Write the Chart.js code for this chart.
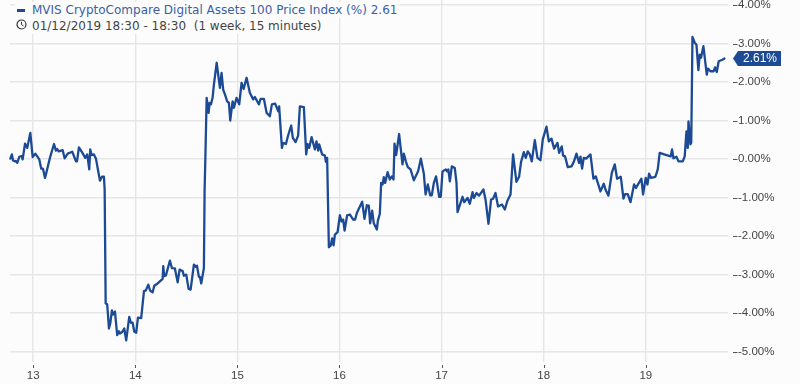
<!DOCTYPE html>
<html><head><meta charset="utf-8">
<style>
html,body{margin:0;padding:0;background:#fcfcfc;overflow:hidden}
#wrap{position:relative;width:800px;height:384px}
canvas{position:absolute;left:0;top:0}
.hd{position:absolute;background:#fcfcfc;font:12px "DejaVu Sans",sans-serif;white-space:pre;line-height:16px;height:16px}
#h1{left:15px;top:2px;padding-left:17px;padding-right:2px;color:#3a5fa5}
#h2{left:15px;top:18px;padding-left:17px;padding-right:2px;color:#444}
#mk{position:absolute;left:17px;top:9px;width:8px;height:3px;background:#1c4a94}
#clk{position:absolute;left:16px;top:19px}
</style></head><body>
<div id="wrap">
<canvas id="c" width="800" height="384"></canvas>
<div class="hd" id="h1"></div><div id="mk"></div>
<div class="hd" id="h2"></div>
<svg id="clk" width="11" height="11" viewBox="0 0 11 11"><circle cx="5.5" cy="5.5" r="4.5" fill="none" stroke="#333" stroke-width="1.2"/><path d="M5.5 2.8V5.7L7.5 6.8" fill="none" stroke="#333" stroke-width="1"/></svg>
</div>
<script src="https://cdn.jsdelivr.net/npm/chart.js@4"></script>
<script>
const seriesName = "MVIS CryptoCompare Digital Assets 100 Price Index (%) 2.61";
const rangeText = "01/12/2019 18:30 - 18:30  (1 week, 15 minutes)";
const xTicks = [13,14,15,16,17,18,19];
const yTicks = [4,3,2,1,0,-1,-2,-3,-4,-5];
const lastLabel = "2.61%";
const days = [12.776,12.792,12.802,12.819,12.829,12.844,12.864,12.887,12.897,12.920,12.942,12.972,12.995,13.021,13.060,13.079,13.096,13.116,13.132,13.164,13.204,13.223,13.236,13.250,13.289,13.308,13.338,13.383,13.419,13.429,13.448,13.478,13.510,13.530,13.549,13.559,13.573,13.595,13.615,13.634,13.654,13.674,13.693,13.700,13.710,13.725,13.742,13.755,13.771,13.781,13.801,13.823,13.840,13.850,13.869,13.892,13.911,13.941,13.957,13.974,13.990,14.009,14.026,14.058,14.085,14.104,14.127,14.146,14.170,14.186,14.219,14.268,14.274,14.283,14.300,14.339,14.359,14.388,14.415,14.434,14.464,14.476,14.499,14.522,14.542,14.574,14.594,14.604,14.623,14.633,14.646,14.672,14.679,14.685,14.699,14.718,14.728,14.741,14.757,14.770,14.797,14.829,14.845,14.861,14.878,14.900,14.917,14.930,14.953,14.966,14.992,15.018,15.041,15.061,15.090,15.122,15.155,15.171,15.211,15.227,15.260,15.286,15.318,15.338,15.370,15.400,15.409,15.436,15.448,15.475,15.501,15.527,15.543,15.570,15.595,15.612,15.651,15.674,15.687,15.703,15.727,15.759,15.775,15.791,15.801,15.830,15.857,15.867,15.879,15.886,15.896,15.915,15.928,15.942,15.955,15.981,16.004,16.020,16.036,16.050,16.075,16.102,16.134,16.153,16.170,16.222,16.245,16.268,16.287,16.300,16.320,16.336,16.366,16.376,16.395,16.408,16.422,16.434,16.447,16.471,16.493,16.513,16.529,16.539,16.555,16.584,16.617,16.630,16.650,16.669,16.696,16.728,16.770,16.797,16.826,16.843,16.865,16.888,16.904,16.924,16.946,16.976,16.992,17.009,17.041,17.054,17.066,17.081,17.100,17.129,17.146,17.156,17.205,17.221,17.254,17.276,17.303,17.316,17.342,17.367,17.410,17.430,17.459,17.485,17.504,17.528,17.553,17.592,17.619,17.645,17.675,17.700,17.733,17.759,17.778,17.805,17.824,17.844,17.864,17.883,17.913,17.939,17.968,17.991,18.027,18.050,18.076,18.102,18.135,18.151,18.177,18.190,18.209,18.236,18.272,18.294,18.321,18.346,18.360,18.376,18.392,18.415,18.458,18.487,18.510,18.556,18.588,18.605,18.634,18.667,18.696,18.719,18.755,18.781,18.797,18.823,18.850,18.885,18.904,18.957,18.973,18.999,19.016,19.032,19.051,19.094,19.117,19.136,19.195,19.244,19.257,19.271,19.300,19.320,19.362,19.381,19.398,19.411,19.418,19.437,19.445,19.457,19.479,19.496,19.515,19.528,19.541,19.564,19.597,19.609,19.633,19.665,19.678,19.695,19.714,19.750,19.770];
const values = [0.01,0.12,-0.03,-0.06,-0.05,-0.10,0.06,0.08,-0.01,0.40,0.29,0.68,0.05,0.14,-0.01,-0.25,-0.25,-0.49,-0.32,0.03,0.39,0.22,0.26,0.20,0.23,0.02,0.14,0.19,-0.06,-0.06,0.30,0.18,0.03,0.12,-0.27,0.25,0.10,0.12,0.01,-0.27,-0.56,-0.46,-0.46,-0.79,-3.75,-3.77,-4.40,-4.27,-3.93,-4.04,-3.96,-4.57,-4.47,-4.53,-4.50,-4.40,-4.71,-4.10,-4.25,-4.25,-4.48,-4.51,-4.12,-4.13,-3.43,-3.41,-3.26,-3.42,-3.46,-3.29,-3.23,-3.11,-2.78,-3.04,-3.02,-2.64,-2.83,-2.84,-3.20,-2.87,-2.91,-3.03,-3.00,-3.37,-3.39,-2.74,-2.80,-2.77,-3.06,-3.06,-3.23,-2.83,-0.79,-0.14,1.59,1.20,1.46,1.42,1.59,1.93,2.50,1.85,2.24,1.80,1.68,1.50,1.46,1.00,1.50,1.33,1.59,1.42,1.98,1.82,2.11,1.72,1.55,1.61,1.42,1.56,1.56,1.20,1.11,1.42,1.44,1.24,1.37,0.29,0.42,0.39,0.65,0.87,0.55,0.44,0.61,1.37,1.35,0.12,0.39,0.29,0.57,0.25,0.46,0.22,0.38,0.12,0.09,-0.07,0.03,0.03,-2.29,-2.24,-2.06,-2.24,-1.96,-1.90,-1.46,-1.62,-1.57,-1.86,-1.46,-1.44,-1.57,-1.57,-1.40,-1.11,-1.55,-1.20,-1.21,-1.67,-1.34,-1.67,-1.83,-1.60,-1.42,-0.62,-0.66,-0.47,-0.62,-0.34,-0.53,-0.45,-0.53,0.40,0.10,0.65,-0.14,0.14,-0.06,-0.21,-0.27,-0.55,-0.32,0.01,-0.38,-0.92,-0.66,-0.94,-0.94,-0.62,-0.45,-0.98,-0.98,-0.32,-0.27,-0.32,-0.27,-0.58,-0.19,-0.23,-0.62,-1.38,-0.98,-1.12,-1.01,-1.16,-0.86,-1.01,-0.88,-0.95,-0.79,-1.05,-1.68,-1.05,-1.03,-0.88,-1.23,-1.18,-1.31,-1.08,-0.92,0.12,-0.59,-0.46,-0.08,0.18,0.03,0.20,0.12,-0.06,0.49,0.03,-0.03,0.51,0.84,0.46,0.53,0.27,0.42,0.16,0.33,0.09,0.07,-0.21,-0.19,-0.08,0.14,-0.10,0.06,-0.25,0.03,0.01,0.12,-0.51,-0.45,-0.84,-0.64,-0.79,-0.95,-0.36,-0.14,-0.51,-0.46,-1.03,-0.91,-0.91,-1.12,-0.66,-0.75,-0.51,-0.92,-0.49,-0.66,-0.38,-0.49,-0.46,-0.27,0.16,0.11,0.07,0.25,0.02,0.06,-0.06,-0.06,0.07,0.72,0.29,0.98,0.38,0.43,3.17,3.02,2.97,2.31,2.71,2.63,2.93,2.19,2.35,2.28,2.28,2.38,2.26,2.54,2.58,2.61];

document.getElementById('h1').textContent = seriesName;
document.getElementById('h2').textContent = rangeText;

const BLUE = '#1c4a94';
const decor = {
  id:'decor',
  afterDraw(ch){
    const g = ch.ctx, ys = ch.scales.y, xs = ch.scales.x, a = ch.chartArea;
    g.save();
    g.strokeStyle = '#555'; g.lineWidth = 1;
    yTicks.forEach(t=>{ const p = Math.round(ys.getPixelForValue(t))+0.5;
      g.beginPath(); g.moveTo(a.right+5,p); g.lineTo(a.right+9.5,p); g.stroke(); });
    xTicks.forEach(t=>{ const p = Math.round(xs.getPixelForValue(t))+0.5;
      g.beginPath(); g.moveTo(p,a.bottom+3); g.lineTo(p,a.bottom+6); g.stroke(); });
    const yy = ys.getPixelForValue(values[values.length-1]), xl = a.right+5;
    g.fillStyle = BLUE;
    g.beginPath(); g.moveTo(xl,yy); g.lineTo(xl+5,yy-7.5); g.lineTo(xl+48,yy-7.5); g.lineTo(xl+48,yy+7.5); g.lineTo(xl+5,yy+7.5); g.closePath(); g.fill();
    g.fillStyle = '#fff'; g.font = '12px "Liberation Sans"'; g.textAlign='center'; g.textBaseline='middle';
    g.fillText(lastLabel, xl+27, yy+0.5);
    g.restore();
  }
};
new Chart(document.getElementById('c'),{
  type:'line',
  data:{datasets:[{data:days.map((d,i)=>({x:d,y:values[i]})),borderColor:BLUE,borderWidth:2.3,borderJoinStyle:'round',borderCapStyle:'round',pointRadius:0,tension:0,fill:false,clip:false}]},
  options:{
    responsive:false,animation:false,
    layout:{padding:{left:10,top:0,right:0,bottom:0}},
    plugins:{legend:{display:false},tooltip:{enabled:false}},
    scales:{
      x:{type:'linear',min:12.773,max:19.805,
        afterBuildTicks(s){s.ticks=xTicks.map(v=>({value:v}));},
        afterFit(s){s.height=22;s.paddingLeft=0;s.paddingRight=0;},
        grid:{color:'#e6e6e6',lineWidth:1.4,drawTicks:false},border:{display:false},
        ticks:{color:'#444',font:{family:'"Liberation Sans"',size:11.5},padding:7,maxRotation:0,callback:v=>String(v)}},
      y:{type:'linear',position:'right',min:-5.27,max:4.13,
        afterBuildTicks(s){s.ticks=yTicks.map(v=>({value:v}));},
        afterFit(s){s.width=72;s.paddingTop=0;s.paddingBottom=0;},
        grid:{color:'#e6e6e6',lineWidth:1.4,drawTicks:false},border:{display:false},
        ticks:{color:'#444',font:{family:'"Liberation Sans"',size:11.5},padding:10,callback:v=>v.toFixed(2)+'%'}}
    }
  },
  plugins:[decor]
});
</script>
</body></html>
